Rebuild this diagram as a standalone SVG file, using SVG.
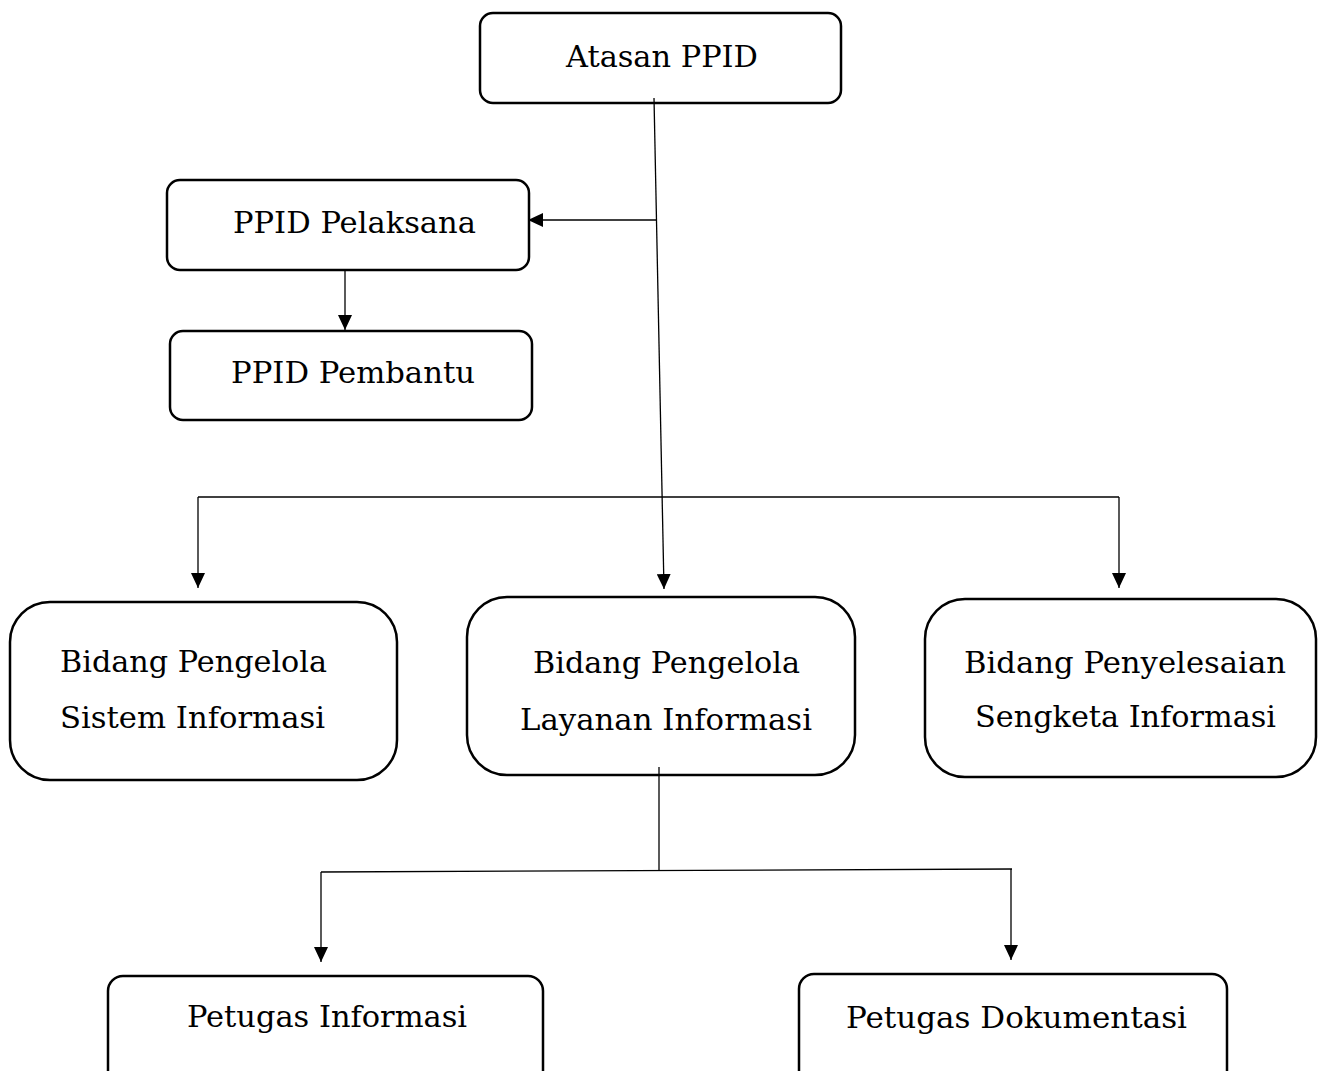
<svg xmlns="http://www.w3.org/2000/svg" width="1318" height="1071" viewBox="0 0 1318 1071">
<style>
.box{fill:#fff;stroke:#000;stroke-width:2.5}
.lbl{font-family:"DejaVu Serif","Liberation Serif",serif;font-size:29px;fill:#000;text-anchor:middle}
.con{fill:none;stroke:#000;stroke-width:1.3}
</style>
<defs>
<marker id="arr" viewBox="0 0 15 14" refX="15" refY="7" markerWidth="15" markerHeight="14" markerUnits="userSpaceOnUse" orient="auto">
<path d="M0,0 L15,7 L0,14 z" fill="#000"/>
</marker>
</defs>
<rect width="1318" height="1071" fill="#fff"/>
<g id="atasan">
<rect class="box" x="480" y="13" width="361" height="90" rx="13"/>
<text class="lbl" x="662" y="67" textLength="192" lengthAdjust="spacingAndGlyphs">Atasan PPID</text>
</g>
<g id="pelaksana">
<rect class="box" x="167" y="180" width="362" height="90" rx="13"/>
<text class="lbl" x="354.5" y="233" textLength="243" lengthAdjust="spacingAndGlyphs">PPID Pelaksana</text>
</g>
<g id="pembantu">
<rect class="box" x="170" y="331" width="362" height="89" rx="13"/>
<text class="lbl" x="353" y="383" textLength="244" lengthAdjust="spacingAndGlyphs">PPID Pembantu</text>
</g>
<g id="sistem">
<rect class="box" x="10" y="602" width="387" height="178" rx="40"/>
<text class="lbl" x="193.5" y="672" textLength="267" lengthAdjust="spacingAndGlyphs">Bidang Pengelola</text>
<text class="lbl" x="192.5" y="728" textLength="265" lengthAdjust="spacingAndGlyphs">Sistem Informasi</text>
</g>
<g id="layanan">
<rect class="box" x="467" y="597" width="388" height="178" rx="40"/>
<text class="lbl" x="666.5" y="673" textLength="267" lengthAdjust="spacingAndGlyphs">Bidang Pengelola</text>
<text class="lbl" x="666" y="730" textLength="292" lengthAdjust="spacingAndGlyphs">Layanan Informasi</text>
</g>
<g id="sengketa">
<rect class="box" x="925" y="599" width="391" height="178" rx="40"/>
<text class="lbl" x="1125" y="673" textLength="322" lengthAdjust="spacingAndGlyphs">Bidang Penyelesaian</text>
<text class="lbl" x="1125.5" y="727" textLength="301" lengthAdjust="spacingAndGlyphs">Sengketa Informasi</text>
</g>
<g id="petugas-informasi">
<rect class="box" x="108" y="976" width="435" height="130" rx="15"/>
<text class="lbl" x="327" y="1027" textLength="280" lengthAdjust="spacingAndGlyphs">Petugas Informasi</text>
</g>
<g id="petugas-dokumentasi">
<rect class="box" x="799" y="974" width="428" height="130" rx="15"/>
<text class="lbl" x="1016.5" y="1028" textLength="341" lengthAdjust="spacingAndGlyphs">Petugas Dokumentasi</text>
</g>
<g id="connectors">
<line class="con" x1="654" y1="98" x2="664" y2="589" marker-end="url(#arr)"/>
<line class="con" x1="657" y1="220" x2="528" y2="220" marker-end="url(#arr)"/>
<line class="con" x1="345" y1="270" x2="345" y2="330" marker-end="url(#arr)"/>
<line class="con" x1="198" y1="497" x2="1119" y2="497"/>
<line class="con" x1="198" y1="497" x2="198" y2="588" marker-end="url(#arr)"/>
<line class="con" x1="1119" y1="497" x2="1119" y2="588" marker-end="url(#arr)"/>
<line class="con" x1="659" y1="767" x2="659" y2="870"/>
<line class="con" x1="321" y1="872" x2="1012" y2="869"/>
<line class="con" x1="321" y1="872" x2="321" y2="962" marker-end="url(#arr)"/>
<line class="con" x1="1011" y1="869" x2="1011" y2="960" marker-end="url(#arr)"/>
</g>
</svg>
